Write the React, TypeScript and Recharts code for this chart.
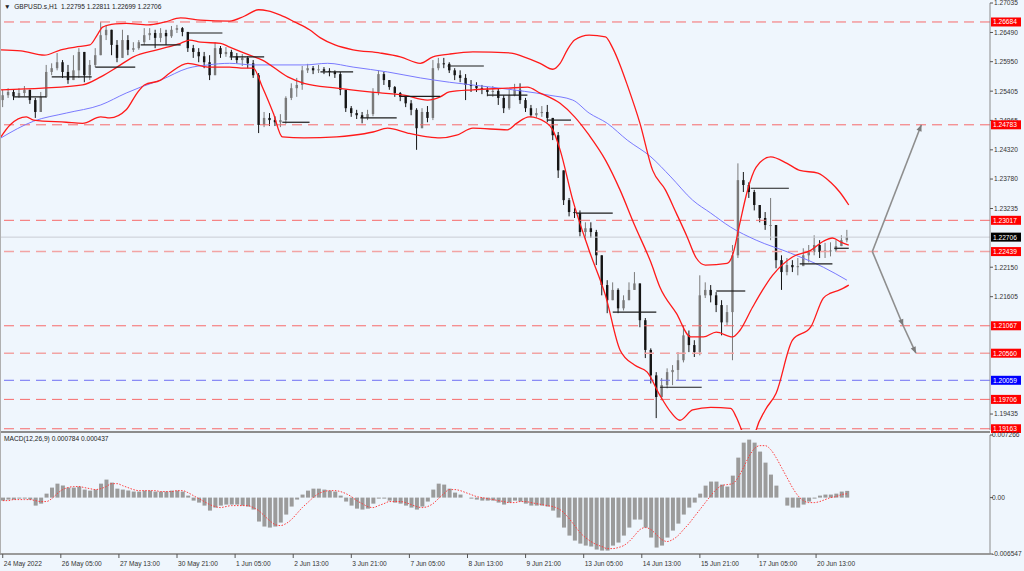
import React from "react";
import { ComposedChart, Bar, Line, XAxis, YAxis, ReferenceLine } from "recharts";

// 3-hour candles (index i = hours from first bar)
const STEP = 3;
const firstOpen = 1.2524;
const closes = [
  1.2533, 1.2539, 1.2531, 1.2537, 1.2543, 1.2524, 1.2502, 1.253, 1.2576, 1.2583,
  1.2594, 1.2576, 1.2561, 1.2579, 1.2613, 1.257, 1.2589, 1.2607, 1.2644, 1.2654,
  1.2626, 1.2602, 1.2635, 1.2617, 1.262, 1.2631, 1.2644, 1.2648, 1.2639, 1.2648,
  1.2642, 1.2654, 1.2657, 1.265, 1.262, 1.2613, 1.2605, 1.2594, 1.257, 1.262,
  1.2609, 1.2613, 1.2605, 1.2598, 1.2602, 1.2592, 1.257, 1.2478, 1.2491, 1.2487,
  1.2483, 1.2487, 1.2528, 1.2546, 1.2552, 1.2579, 1.2583, 1.2579, 1.2581, 1.2578,
  1.2576, 1.2572, 1.2543, 1.2509, 1.25, 1.2496, 1.2491, 1.2498, 1.2539, 1.2572,
  1.2561, 1.2548, 1.2537, 1.253, 1.2518, 1.2506, 1.2472, 1.2502, 1.2491, 1.2583,
  1.2592, 1.2591, 1.2579, 1.257, 1.2565, 1.2552, 1.255, 1.2546, 1.2543, 1.2539,
  1.2541, 1.2528, 1.2509, 1.2533, 1.2543, 1.2524, 1.2509, 1.2496, 1.25, 1.2502,
  1.2491, 1.2459, 1.2394, 1.2339, 1.2317, 1.2315, 1.228, 1.2287, 1.228, 1.2237,
  1.2182, 1.2154, 1.2173, 1.2139, 1.2154, 1.2173, 1.2185, 1.2117, 1.2062, 1.2015,
  1.1975, 1.1997, 1.2021, 1.2025, 1.2043, 1.2089, 1.2071, 1.2058, 1.2163, 1.2173,
  1.2163, 1.2145, 1.2113, 1.2132, 1.2237, 1.2376, 1.2367, 1.2354, 1.233, 1.2306,
  1.2293, 1.2293, 1.2228, 1.2206, 1.2219, 1.2215, 1.2217, 1.2237, 1.2243, 1.2256,
  1.2243, 1.2246, 1.2246, 1.2254, 1.2265, 1.2271,
];
const highs = [
  1.2543, 1.2546, 1.2543, 1.2546, 1.255, 1.2543, 1.2528, 1.2539, 1.2589, 1.2592,
  1.2611, 1.2598, 1.2589, 1.2607, 1.262, 1.2607, 1.2598, 1.262, 1.2668, 1.2663,
  1.2654, 1.2635, 1.2654, 1.2644, 1.2631, 1.2635, 1.2657, 1.2657, 1.2654, 1.2657,
  1.2654, 1.2661, 1.2663, 1.2659, 1.265, 1.2626, 1.262, 1.2613, 1.2607, 1.2631,
  1.2624, 1.2622, 1.2617, 1.2611, 1.2609, 1.2605, 1.2598, 1.2574, 1.2502, 1.25,
  1.2494, 1.2498, 1.2531, 1.2555, 1.2565, 1.2587, 1.2591, 1.2587, 1.2589, 1.2585,
  1.2583, 1.2579, 1.2576, 1.2543, 1.2513, 1.2506, 1.2502, 1.2506, 1.2546, 1.2579,
  1.2576, 1.2561, 1.255, 1.2539, 1.2531, 1.2524, 1.2509, 1.2509, 1.2513, 1.2598,
  1.2602, 1.2602, 1.2594, 1.2583, 1.2579, 1.2572, 1.2561, 1.2557, 1.2552, 1.2548,
  1.255, 1.2546, 1.2533, 1.2543, 1.2554, 1.2555, 1.2528, 1.2515, 1.2509, 1.2513,
  1.2515, 1.2491, 1.2465, 1.2394, 1.2343, 1.2324, 1.232, 1.2298, 1.2298, 1.2284,
  1.2237, 1.2191, 1.2187, 1.2176, 1.2163, 1.2187, 1.2206, 1.2182, 1.2121, 1.2065,
  1.2021, 1.201, 1.2028, 1.2034, 1.2058, 1.2108, 1.2098, 1.208, 1.22, 1.2187,
  1.2182, 1.2169, 1.2154, 1.2145, 1.2256, 1.2407, 1.2391, 1.2372, 1.2358, 1.233,
  1.2317, 1.2343, 1.2293, 1.2237, 1.2232, 1.2228, 1.2232, 1.225, 1.2256, 1.2274,
  1.2265, 1.226, 1.2261, 1.2265, 1.2274, 1.2284,
];
const lows = [
  1.2511, 1.2528, 1.2524, 1.2528, 1.2531, 1.2517, 1.2491, 1.2502, 1.2528, 1.257,
  1.2579, 1.2565, 1.2554, 1.2561, 1.2565, 1.2557, 1.2561, 1.2585, 1.2607, 1.2635,
  1.2607, 1.2594, 1.2602, 1.2607, 1.2613, 1.2617, 1.2626, 1.2635, 1.262, 1.2631,
  1.2626, 1.2639, 1.2648, 1.2642, 1.2613, 1.2602, 1.2594, 1.2583, 1.2561, 1.2579,
  1.2602, 1.2604, 1.2598, 1.2592, 1.2587, 1.2583, 1.2565, 1.2463, 1.2474, 1.2476,
  1.2476, 1.2474, 1.248, 1.2524, 1.253, 1.2543, 1.2574, 1.2572, 1.2574, 1.2572,
  1.2568, 1.2565, 1.2533, 1.2502, 1.2493, 1.2489, 1.2481, 1.2487, 1.2494, 1.2533,
  1.2552, 1.2543, 1.253, 1.2522, 1.2511, 1.2496, 1.2432, 1.2478, 1.2483, 1.2487,
  1.2579, 1.2583, 1.2574, 1.2561, 1.2557, 1.2524, 1.2539, 1.2539, 1.2535, 1.2531,
  1.253, 1.2515, 1.25, 1.2506, 1.2531, 1.2517, 1.2502, 1.2493, 1.2491, 1.2493,
  1.2483, 1.245, 1.238, 1.233, 1.2309, 1.2306, 1.2272, 1.2265, 1.2269, 1.2219,
  1.2163, 1.213, 1.2154, 1.213, 1.2135, 1.2154, 1.2173, 1.2104, 1.2047, 1.2,
  1.1936, 1.1969, 1.1991, 1.1997, 1.2006, 1.2039, 1.2058, 1.2049, 1.2052, 1.2158,
  1.215, 1.2132, 1.2089, 1.2108, 1.2043, 1.2232, 1.2354, 1.2343, 1.232, 1.2298,
  1.2284, 1.2265, 1.2213, 1.2173, 1.22, 1.2206, 1.22, 1.2219, 1.2224, 1.2237,
  1.2232, 1.2232, 1.2235, 1.2243, 1.2254, 1.2261,
];

// MACD histogram and signal, in units of 0.0001
const MACD_UNIT = 1e-4;
const macdHist = [
  -3.5, -2.3, -2.3, -1.2, -1.2, -2.3, -9.3, -7.0, 4.6, 11.6,
  16.2, 13.9, 11.6, 11.6, 12.8, 9.3, 8.1, 9.3, 16.2, 20.9,
  17.4, 10.4, 9.3, 8.1, 7.0, 7.0, 8.1, 8.1, 7.0, 7.0,
  7.0, 8.1, 8.1, 7.0, 2.3, -3.5, -5.8, -9.3, -15.1, -11.6,
  -9.3, -8.1, -8.1, -8.1, -9.3, -10.4, -13.9, -27.8, -33.6, -34.8,
  -33.6, -29.0, -19.7, -10.4, -2.3, 3.5, 8.1, 10.4, 10.4, 9.3,
  8.1, 7.0, 2.3, -4.6, -9.3, -12.8, -13.9, -12.8, -7.0, -1.2,
  -1.2, -3.5, -5.8, -7.0, -9.3, -11.6, -13.9, -10.4, -4.6, 9.3,
  16.2, 15.1, 10.4, 5.8, 3.5, 0, -1.2, -2.3, -3.5, -3.5,
  -3.5, -5.8, -8.1, -5.8, -3.5, -4.6, -7.0, -9.3, -9.3, -9.3,
  -10.4, -15.1, -23.2, -34.8, -44.1, -49.9, -53.4, -55.7, -56.8, -60.3,
  -61.5, -61.5, -55.7, -52.2, -44.1, -34.8, -25.5, -25.5, -34.8, -46.4,
  -58.0, -55.7, -46.4, -38.3, -30.2, -19.7, -11.6, -5.8, 4.6, 13.9,
  18.6, 18.6, 15.1, 12.8, 25.5, 46.4, 63.8, 67.3, 63.8, 53.4,
  40.6, 26.7, 13.9, 0, -9.3, -11.6, -11.6, -8.1, -4.6, -1.2,
  2.3, 3.5, 3.5, 4.6, 7.0, 7.8,
];
const macdSignal = [
  -3.5, -3.5, -2.3, -2.3, -2.3, -2.3, -3.5, -4.6, -4.6, -1.2,
  4.6, 9.3, 11.6, 12.8, 12.8, 11.6, 10.4, 9.3, 10.4, 12.8,
  16.2, 16.2, 13.9, 11.6, 9.3, 8.1, 8.1, 8.1, 8.1, 7.0,
  7.0, 7.0, 8.1, 8.1, 5.8, 2.3, -1.2, -4.6, -8.1, -10.4,
  -11.6, -10.4, -9.3, -9.3, -9.3, -9.3, -11.6, -15.1, -20.9, -26.7,
  -31.3, -32.5, -30.2, -25.5, -18.6, -11.6, -5.8, 0, 4.6, 7.0,
  8.1, 8.1, 7.0, 4.6, 1.2, -3.5, -7.0, -10.4, -11.6, -9.3,
  -7.0, -4.6, -4.6, -4.6, -5.8, -8.1, -10.4, -11.6, -10.4, -7.0,
  -1.2, 4.6, 9.3, 9.3, 8.1, 5.8, 3.5, 1.2, 0, -1.2,
  -2.3, -3.5, -4.6, -5.8, -5.8, -4.6, -4.6, -5.8, -7.0, -8.1,
  -9.3, -10.4, -12.8, -17.4, -24.4, -32.5, -40.6, -46.4, -51.0, -54.5,
  -56.8, -59.2, -59.2, -58.0, -55.7, -51.0, -44.1, -37.1, -34.8, -37.1,
  -42.9, -48.7, -51.0, -48.7, -44.1, -37.1, -30.2, -22.0, -13.9, -5.8,
  2.3, 9.3, 13.9, 15.1, 16.2, 23.2, 34.8, 47.6, 56.8, 60.3,
  60.3, 55.7, 46.4, 34.8, 23.2, 11.6, 2.3, -3.5, -5.8, -5.8,
  -4.6, -2.3, 0, 1.2, 3.5, 4.4,
];

// Bollinger bands (20) and blue MA, knots as [hour index, price]
const upperBand = [
  [-1, 1.2617], [10, 1.2615], [23, 1.2607], [32, 1.2617], [40, 1.2622], [48, 1.2626],
  [52, 1.2644], [55, 1.2659], [62, 1.2665], [68, 1.2666], [80, 1.2663], [89, 1.2668],
  [98, 1.2676], [109, 1.2672], [125, 1.267], [133, 1.2679], [141, 1.2691], [146, 1.2689],
  [153, 1.2681], [161, 1.2668], [169, 1.2654], [175, 1.2639], [183, 1.2626], [193, 1.2617],
  [208, 1.2611], [219, 1.2604], [230, 1.2592], [237, 1.2604], [246, 1.2609], [259, 1.2613],
  [280, 1.2611], [287, 1.2604], [296, 1.2592], [303, 1.2581], [307, 1.2592], [311, 1.2617],
  [315, 1.2635], [323, 1.2644], [332, 1.2641], [336, 1.262], [340, 1.2589], [344, 1.2552],
  [351, 1.2481], [358, 1.2394], [365, 1.2358], [371, 1.2315], [377, 1.2271], [382, 1.2232],
  [387, 1.2219], [399, 1.2222], [402, 1.2237], [406, 1.2296], [410, 1.2354], [415, 1.24],
  [423, 1.2419], [432, 1.2407], [439, 1.2394], [449, 1.2389], [456, 1.2372], [461, 1.2354],
  [466, 1.233],
];
const middleBand = [
  [-1, 1.2543], [22, 1.2546], [44, 1.2552], [54, 1.2567], [63, 1.2585], [72, 1.2604],
  [85, 1.2617], [98, 1.2629], [103, 1.2635], [109, 1.2631], [120, 1.2629], [125, 1.2622],
  [136, 1.2607], [143, 1.2598], [157, 1.2567], [166, 1.2555], [184, 1.2546], [202, 1.2539],
  [221, 1.2533], [234, 1.2524], [241, 1.253], [246, 1.2539], [259, 1.2543], [278, 1.2546],
  [289, 1.2548], [296, 1.2537], [307, 1.2518], [315, 1.2493], [323, 1.2459], [332, 1.2413],
  [340, 1.2358], [348, 1.2293], [357, 1.2224], [362, 1.2178], [371, 1.213], [379, 1.2086],
  [386, 1.2086], [393, 1.2095], [402, 1.2086], [406, 1.2098], [413, 1.2141], [424, 1.22],
  [435, 1.2234], [445, 1.2246], [452, 1.2263], [457, 1.2269], [462, 1.2261], [466, 1.2256],
];
const lowerBand = [
  [-1, 1.2456], [4, 1.2478], [13, 1.2493], [17, 1.2487], [35, 1.2483], [44, 1.2481],
  [54, 1.2493], [59, 1.2491], [68, 1.2506], [74, 1.2537], [78, 1.2552], [87, 1.2561],
  [92, 1.2574], [102, 1.2592], [113, 1.2585], [125, 1.2585], [133, 1.2583], [138, 1.2583],
  [143, 1.2548], [149, 1.25], [154, 1.2456], [166, 1.2454], [184, 1.2456], [193, 1.2459],
  [204, 1.2465], [212, 1.2472], [223, 1.2463], [234, 1.2456], [241, 1.2454], [250, 1.2459],
  [259, 1.2472], [278, 1.2469], [283, 1.2481], [290, 1.2493], [299, 1.2483], [303, 1.2469],
  [307, 1.2432], [314, 1.2339], [323, 1.2246], [332, 1.2163], [340, 1.2062], [348, 1.2034],
  [355, 1.2021], [362, 1.1978], [368, 1.1947], [373, 1.1932], [380, 1.1951], [390, 1.1956],
  [401, 1.1954], [404, 1.1938], [407, 1.1914], [410, 1.1889], [413, 1.1886], [415, 1.1914],
  [420, 1.1951], [426, 1.1982], [435, 1.208], [445, 1.2104], [452, 1.2158], [456, 1.2167],
  [461, 1.2173], [466, 1.2182],
];
const blueMA = [
  [-1, 1.2454], [17, 1.2485], [35, 1.25], [54, 1.2515], [68, 1.2537], [76, 1.2548],
  [87, 1.2561], [102, 1.2583], [113, 1.2589], [125, 1.2592], [138, 1.2589], [166, 1.2589],
  [179, 1.2592], [193, 1.2585], [212, 1.2576], [230, 1.2565], [246, 1.2557], [274, 1.2546],
  [301, 1.2533], [314, 1.2524], [323, 1.25], [333, 1.2481], [344, 1.245], [357, 1.2419],
  [368, 1.2382], [380, 1.2339], [390, 1.2315], [401, 1.2289], [415, 1.2265], [434, 1.2241],
  [452, 1.2215], [465, 1.2191],
];

// short black level marks [from, to, price]
const marks = [
  [6, 24, 1.253], [27, 49, 1.2567], [51, 73, 1.2585], [76, 98, 1.2626], [102, 121, 1.2648],
  [125, 144, 1.2604], [154, 169, 1.2483], [175, 193, 1.2576], [197, 217, 1.2491],
  [219, 241, 1.2531], [245, 265, 1.2587], [267, 289, 1.2533], [300, 313, 1.2487],
  [316, 336, 1.2315], [336, 360, 1.2132], [362, 385, 1.1993], [393, 409, 1.2171],
  [412, 433, 1.2361], [439, 457, 1.2221], [458, 466, 1.225],
];

// forecast arrows [x1, y1, x2, y2]
const arrows = [
  [479, 1.22439, 506, 1.24783],
  [479, 1.22439, 496, 1.21067],
  [496, 1.21067, 503, 1.2056],
];

const redLevels = [1.26684, 1.24783, 1.23017, 1.21067, 1.19706, 1.19163];
const paleLevels = [1.22439, 1.2056];
const blueLevel = 1.20059;
const bidLevel = 1.22706;

const priceTicks = [
  1.27035, 1.2649, 1.2595, 1.25405, 1.24865, 1.2432, 1.2378, 1.23235,
  1.2215, 1.21605, 1.19435,
];
const tagLevels = [1.26684, 1.24783, 1.23017, 1.22706, 1.22439, 1.21067, 1.2056, 1.20059, 1.19706, 1.19163];
const tagColors = ["#ff0000", "#ff0000", "#ff0000", "#000000", "#ff0000", "#ff0000", "#ff0000", "#0000ff", "#ff0000", "#ff0000"];

const macdTicks = [0.007266, 0, -0.006547];
const macdTickLabels = ["0.007266", "0.00", "-0.006547"];

const dateTicks = [0, 32, 64, 96, 128, 160, 192, 224, 256, 288, 320, 352, 384, 416, 448];
const dateLabels = [
  "24 May 2022", "26 May 05:00", "27 May 13:00", "30 May 21:00", "1 Jun 05:00",
  "2 Jun 13:00", "3 Jun 21:00", "7 Jun 05:00", "8 Jun 13:00", "9 Jun 21:00",
  "13 Jun 05:00", "14 Jun 13:00", "15 Jun 21:00", "17 Jun 05:00", "20 Jun 13:00",
];

const X_DOMAIN: [number, number] = [-1.5, 543.8];
const PRICE_DOMAIN: [number, number] = [1.1914, 1.27035];
const MACD_DOMAIN: [number, number] = [-0.006547, 0.007266];
const BG = "#eff6fd";
const FONT = '"Liberation Sans", Arial, sans-serif';
const FS = 6.6;
const AXIS_X = 990;

const candles = closes.map((c, k) => ({
  i: k * STEP,
  open: k === 0 ? firstOpen : closes[k - 1],
  high: highs[k],
  low: lows[k],
  close: c,
  macd: macdHist[k] * MACD_UNIT,
  signal: macdSignal[k] * MACD_UNIT,
}));

const toPts = (arr: number[][]) => arr.map(([i, v]) => ({ i, v }));

function CandleShape(props: any) {
  const { x, y, width, height, payload } = props;
  if (x == null || y == null || !payload) return null;
  const { open, close, high, low } = payload;
  const span = high - low || 1e-9;
  const toY = (v: number) => y + ((high - v) / span) * height;
  const cx = x + width / 2;
  const yo = toY(open);
  const yc = toY(close);
  const top = Math.min(y, yo, yc);
  const bottom = Math.max(y + height, yo, yc);
  const color = close >= open ? "#7a7a7a" : "#151515";
  const bodyTop = Math.min(yo, yc);
  const bodyH = Math.max(Math.abs(yo - yc), 1);
  return (
    <g>
      <line x1={cx} x2={cx} y1={top} y2={bottom} stroke={color} strokeWidth={1} />
      <rect x={cx - 1.2} y={bodyTop} width={2.4} height={bodyH} fill={color} />
    </g>
  );
}

function ArrowShape(p: any) {
  const { x1, y1, x2, y2 } = p;
  const a = Math.atan2(y2 - y1, x2 - x1);
  const L = 7;
  const s = 0.4;
  const ax = x2 - L * Math.cos(a - s);
  const ay = y2 - L * Math.sin(a - s);
  const bx = x2 - L * Math.cos(a + s);
  const by = y2 - L * Math.sin(a + s);
  return (
    <g>
      <line x1={x1} y1={y1} x2={x2} y2={y2} stroke="#8e8e8e" strokeWidth={1.6} />
      <polygon points={`${x2},${y2} ${ax},${ay} ${bx},${by}`} fill="#7c7c7c" />
    </g>
  );
}

function PriceTick(props: any) {
  const { y, payload } = props;
  const v = payload.value as number;
  const t = tagLevels.indexOf(v);
  if (t >= 0) {
    return (
      <g>
        <rect x={AXIS_X + 1} y={y - 4.5} width={30} height={9} fill={tagColors[t]} />
        <text x={AXIS_X + 3} y={y + 2.4} fill="#ffffff" fontSize={FS} fontFamily={FONT}>
          {v.toFixed(5)}
        </text>
      </g>
    );
  }
  return (
    <g>
      <line x1={AXIS_X} x2={AXIS_X + 3} y1={y} y2={y} stroke="#555" />
      <text x={AXIS_X + 4} y={y + 2.4} fill="#333" fontSize={FS} fontFamily={FONT}>
        {v.toFixed(5)}
      </text>
    </g>
  );
}

function MacdTick(props: any) {
  const { y, payload } = props;
  const idx = macdTicks.indexOf(payload.value);
  return (
    <g>
      <line x1={AXIS_X} x2={AXIS_X + 3} y1={y} y2={y} stroke="#555" />
      <text x={AXIS_X + 2} y={y + 2.4} fill="#333" fontSize={FS} fontFamily={FONT}>
        {macdTickLabels[idx]}
      </text>
    </g>
  );
}

function DateTick(props: any) {
  const { x, payload } = props;
  const idx = dateTicks.indexOf(payload.value);
  return (
    <g>
      <line x1={x} x2={x} y1={122} y2={126} stroke="#555" />
      <text x={x + 1} y={134} fill="#333" fontSize={FS} fontFamily={FONT}>
        {dateLabels[idx]}
      </text>
    </g>
  );
}

export default function App() {
  const allPriceTicks = [...priceTicks, ...tagLevels];
  return (
    <div
      style={{
        position: "absolute",
        left: 0,
        top: 0,
        width: 1024,
        height: 571,
        background: BG,
        fontFamily: FONT,
        overflow: "hidden",
      }}
    >
      <div style={{ position: "absolute", left: 0, top: 0 }}>
        <ComposedChart width={1024} height={433} data={candles} margin={{ top: 3, right: 0, bottom: 3, left: 0 }}>
          <XAxis type="number" dataKey="i" domain={X_DOMAIN} allowDataOverflow hide />
          <YAxis
            orientation="right"
            width={34}
            domain={PRICE_DOMAIN}
            allowDataOverflow
            ticks={allPriceTicks}
            interval={0}
            tick={PriceTick}
            tickLine={false}
            axisLine={{ stroke: "#8c8c8c" }}
          />
          {redLevels.map((v) => (
            <ReferenceLine key={"r" + v} y={v} stroke="#f76a6a" strokeDasharray="10 6" />
          ))}
          {paleLevels.map((v) => (
            <ReferenceLine key={"p" + v} y={v} stroke="#f2a4a4" strokeDasharray="10 6" strokeWidth={1.4} />
          ))}
          <ReferenceLine y={blueLevel} stroke="#6e6ef2" strokeDasharray="10 6" />
          <ReferenceLine y={bidLevel} stroke="#c9ccd4" />
          <Line data={toPts(blueMA)} dataKey="v" type="monotone" stroke="#7a7aff" strokeWidth={1} dot={false} activeDot={false} isAnimationActive={false} />
          <Line data={toPts(upperBand)} dataKey="v" type="monotone" stroke="#ff1a1a" strokeWidth={1.3} dot={false} activeDot={false} isAnimationActive={false} />
          <Line data={toPts(middleBand)} dataKey="v" type="monotone" stroke="#ff1a1a" strokeWidth={1.3} dot={false} activeDot={false} isAnimationActive={false} />
          <Line data={toPts(lowerBand)} dataKey="v" type="monotone" stroke="#ff1a1a" strokeWidth={1.3} dot={false} activeDot={false} isAnimationActive={false} />
          <Bar dataKey={(d: any) => [d.low, d.high]} shape={CandleShape} barSize={4} isAnimationActive={false} />
          {marks.map(([a, b, p], n) => (
            <ReferenceLine key={"m" + n} segment={[{ x: a, y: p }, { x: b, y: p }]} stroke="#1c1c1c" strokeWidth={1.2} />
          ))}
          {arrows.map(([a, p, b, q], n) => (
            <ReferenceLine key={"a" + n} segment={[{ x: a, y: p }, { x: b, y: q }]} shape={ArrowShape} />
          ))}
        </ComposedChart>
      </div>
      <div style={{ position: "absolute", left: 0, top: 431, width: 990, height: 2, background: "#8c8c8c" }} />
      <div style={{ position: "absolute", left: 0, top: 0, width: 1, height: 555, background: "#b0b0b0" }} />
      <div style={{ position: "absolute", left: 0, top: 432 }}>
        <ComposedChart width={1024} height={139} data={candles} margin={{ top: 3, right: 0, bottom: 0, left: 0 }}>
          <XAxis
            type="number"
            dataKey="i"
            domain={X_DOMAIN}
            allowDataOverflow
            ticks={dateTicks}
            interval={0}
            height={17}
            tick={DateTick}
            tickLine={false}
            axisLine={{ stroke: "#9a9a9a", strokeWidth: 2 }}
          />
          <YAxis
            orientation="right"
            width={34}
            domain={MACD_DOMAIN}
            allowDataOverflow
            ticks={macdTicks}
            interval={0}
            tick={MacdTick}
            tickLine={false}
            axisLine={{ stroke: "#8c8c8c" }}
          />
          <Bar dataKey="macd" barSize={4} fill="#9b9b9b" isAnimationActive={false} />
          <Line dataKey="signal" type="monotone" stroke="#ff3b3b" strokeWidth={1} strokeDasharray="1.5 1.5" dot={false} activeDot={false} isAnimationActive={false} />
        </ComposedChart>
      </div>
      <div style={{ position: "absolute", left: 4, top: 2, fontSize: FS, color: "#222", whiteSpace: "pre", lineHeight: "10px" }}>
        {"▼  GBPUSD.s,H1  1.22795 1.22811 1.22699 1.22706"}
      </div>
      <div style={{ position: "absolute", left: 4, top: 434, fontSize: FS, color: "#222", whiteSpace: "pre", lineHeight: "10px" }}>
        {"MACD(12,26,9) 0.000784 0.000437"}
      </div>
    </div>
  );
}
